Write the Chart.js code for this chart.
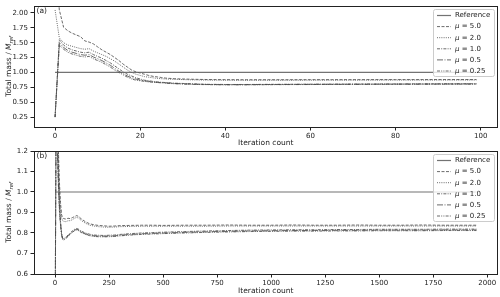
<!DOCTYPE html>
<html>
<head>
<meta charset="utf-8">
<script src="https://cdn.jsdelivr.net/npm/chart.js@4/dist/chart.umd.min.js"></script>
<style>
    html, body { margin: 0; padding: 0; background: #fff; }
    #wrap { position: relative; width: 500px; height: 297px; overflow: hidden; }
    canvas { position: absolute; left: 0; }
    #topChart { top: 0; }
    #bottomChart { top: 145px; }
</style>
</head>
<body>
<div id="wrap">
    <canvas id="topChart" width="500" height="150"></canvas>
    <canvas id="bottomChart" width="500" height="152"></canvas>
</div>
<script>
// --- Data: panel (a), first 100 iterations ---
const topIter = [0, 1, 2, 3, 4, 5, 6, 7, 8, 9, 10, 11, 12, 13, 14, 15, 16, 17, 18, 19, 20, 21, 22, 23, 24, 25, 26,
    28, 30, 32, 34, 36, 38, 40, 45, 50, 55, 60, 65, 70, 75, 80, 85, 90, 95, 99];
const topMu5 = [3.00, 2.05, 1.76, 1.70, 1.66, 1.63, 1.60, 1.53, 1.51, 1.48,
    1.43, 1.38, 1.34, 1.30, 1.25, 1.20, 1.14, 1.09, 1.04, 1.01,
    0.99, 0.97, 0.95, 0.935, 0.925, 0.915, 0.905,
    0.895, 0.89, 0.886, 0.883, 0.881, 0.88, 0.879,
    0.878, 0.878, 0.878, 0.879, 0.879, 0.879, 0.88, 0.88, 0.88, 0.881, 0.881, 0.881];
const topMu2 = [2.05, 1.58, 1.50, 1.46, 1.44, 1.42, 1.40, 1.39, 1.40, 1.36,
    1.33, 1.30, 1.27, 1.23, 1.19, 1.14, 1.09, 1.04, 1.00, 0.97,
    0.95, 0.93, 0.92, 0.91, 0.90, 0.895, 0.89,
    0.885, 0.88, 0.876, 0.873, 0.871, 0.87, 0.869,
    0.868, 0.869, 0.869, 0.87, 0.87, 0.871, 0.871, 0.872, 0.872, 0.872, 0.873, 0.873];
const topMu1 = [0.25, 1.55, 1.46, 1.41, 1.38, 1.36, 1.34, 1.33, 1.34, 1.30,
    1.27, 1.24, 1.20, 1.16, 1.11, 1.06, 1.01, 0.97, 0.94, 0.91,
    0.89, 0.87, 0.86, 0.85, 0.84, 0.835, 0.83,
    0.82, 0.815, 0.81, 0.805, 0.80, 0.80, 0.798,
    0.798, 0.80, 0.801, 0.803, 0.804, 0.805, 0.806, 0.807, 0.808, 0.809, 0.81, 0.81];
const topMu05 = [0.25, 1.50, 1.42, 1.37, 1.34, 1.32, 1.30, 1.29, 1.30, 1.26,
    1.23, 1.20, 1.16, 1.12, 1.07, 1.02, 0.98, 0.94, 0.91, 0.89,
    0.87, 0.86, 0.85, 0.84, 0.835, 0.83, 0.825,
    0.815, 0.81, 0.805, 0.80, 0.798, 0.796, 0.795,
    0.795, 0.797, 0.799, 0.80, 0.801, 0.802, 0.803, 0.804, 0.805, 0.806, 0.807, 0.807];
const topMu025 = [0.25, 1.46, 1.39, 1.34, 1.31, 1.29, 1.27, 1.26, 1.27, 1.23,
    1.20, 1.17, 1.13, 1.09, 1.04, 1.00, 0.96, 0.92, 0.89, 0.87,
    0.86, 0.85, 0.84, 0.835, 0.83, 0.825, 0.82,
    0.81, 0.805, 0.80, 0.797, 0.795, 0.793, 0.792,
    0.792, 0.794, 0.796, 0.797, 0.798, 0.799, 0.80, 0.801, 0.802, 0.803, 0.803, 0.804];

// --- Data: panel (b), long run ---
const bottomIter = [0, 5, 10, 15, 20, 25, 30, 35, 40, 50,
    60, 70, 80, 90, 100, 110, 120, 140, 160, 180,
    200, 225, 250, 275, 300, 350, 400, 450, 500, 600,
    700, 800, 900, 1000, 1100, 1200, 1300, 1400, 1500, 1600,
    1700, 1800, 1900, 1950];
const bottomMu5 = [3.00, 1.90, 1.45, 1.22, 1.05, 0.95, 0.89, 0.875, 0.87, 0.868,
    0.872, 0.87, 0.875, 0.88, 0.885, 0.88, 0.87, 0.855, 0.845, 0.84,
    0.837, 0.835, 0.833, 0.834, 0.836, 0.837, 0.838, 0.838, 0.837, 0.838,
    0.838, 0.839, 0.838, 0.838, 0.839, 0.838, 0.838, 0.839, 0.838, 0.838,
    0.839, 0.838, 0.838, 0.838];
const bottomMu2 = [2.05, 1.60, 1.35, 1.15, 1.00, 0.92, 0.875, 0.86, 0.857, 0.855,
    0.86, 0.86, 0.865, 0.872, 0.876, 0.872, 0.862, 0.848, 0.838, 0.834,
    0.831, 0.829, 0.828, 0.829, 0.831, 0.832, 0.833, 0.833, 0.833, 0.833,
    0.833, 0.834, 0.834, 0.834, 0.834, 0.834, 0.834, 0.834, 0.834, 0.834,
    0.834, 0.834, 0.834, 0.834];
const bottomMu1 = [0.25, 1.50, 1.30, 1.10, 0.95, 0.86, 0.80, 0.776, 0.772, 0.78,
    0.79, 0.80, 0.81, 0.818, 0.822, 0.818, 0.81, 0.80, 0.794, 0.79,
    0.789, 0.788, 0.789, 0.79, 0.793, 0.797, 0.80, 0.802, 0.804, 0.807,
    0.81, 0.812, 0.814, 0.815, 0.816, 0.816, 0.817, 0.817, 0.818, 0.818,
    0.818, 0.819, 0.819, 0.819];
const bottomMu05 = [0.25, 1.45, 1.26, 1.07, 0.93, 0.85, 0.795, 0.772, 0.768, 0.776,
    0.786, 0.796, 0.806, 0.814, 0.818, 0.814, 0.806, 0.796, 0.79, 0.786,
    0.785, 0.784, 0.785, 0.786, 0.789, 0.793, 0.796, 0.798, 0.80, 0.803,
    0.806, 0.808, 0.81, 0.811, 0.812, 0.812, 0.813, 0.813, 0.814, 0.814,
    0.814, 0.815, 0.815, 0.815];
const bottomMu025 = [0.25, 1.40, 1.22, 1.04, 0.91, 0.84, 0.79, 0.768, 0.765, 0.773,
    0.783, 0.793, 0.803, 0.811, 0.815, 0.811, 0.803, 0.793, 0.787, 0.783,
    0.782, 0.781, 0.782, 0.783, 0.786, 0.79, 0.793, 0.795, 0.797, 0.80,
    0.803, 0.805, 0.807, 0.808, 0.809, 0.809, 0.81, 0.81, 0.811, 0.811,
    0.811, 0.812, 0.812, 0.812];

const referenceValue = 1.0;
const muLabels = ['5.0', '2.0', '1.0', '0.5', '0.25'];

// --- Tick labels ---
const topXTicks = [0, 20, 40, 60, 80, 100];
const topYTicks = [0.25, 0.50, 0.75, 1.00, 1.25, 1.50, 1.75, 2.00];
const bottomXTicks = [0, 250, 500, 750, 1000, 1250, 1500, 1750, 2000];
const bottomYTicks = [0.6, 0.7, 0.8, 0.9, 1.0, 1.1, 1.2];

// --- Styles ---
const FONT = 'DejaVu Sans';
const INK = '#222';
const LINE = 'rgba(70, 70, 70, 0.8)';
const REF_LINE = 'rgba(90, 90, 90, 0.85)';
const muDashes = [[3, 1.5], [1, 1.2], [3, 1.2, 1, 1.2], [6, 1.5, 1, 1.5], [3, 1.2, 1, 1.2, 1, 1.2]];

Chart.defaults.font.family = FONT;
Chart.defaults.color = INK;

function makeDatasets(iter, seriesList) {
    const sets = [{
        label: 'Reference',
        data: [iter[0], iter[iter.length - 1]].map(x => ({ x, y: referenceValue })),
        borderColor: REF_LINE,
        borderWidth: 1.2
    }];
    seriesList.forEach((vals, k) => {
        sets.push({
            label: 'μ = ' + muLabels[k],
            data: iter.map((x, i) => ({ x, y: vals[i] })),
            borderColor: LINE,
            borderWidth: 1,
            borderDash: muDashes[k]
        });
    });
    sets.forEach(s => { s.pointRadius = 0; s.fill = false; s.tension = 0; });
    return sets;
}

// frame, axis titles, panel label and legend
const panelDecor = {
    id: 'panelDecor',
    afterDraw(chart, args, opts) {
        const ctx = chart.ctx;
        const a = chart.chartArea;
        ctx.save();

        // frame round the plot
        ctx.strokeStyle = INK;
        ctx.lineWidth = 1;
        ctx.setLineDash([]);
        ctx.strokeRect(Math.round(a.left) + 0.5, Math.round(a.top) + 0.5,
            Math.round(a.right - a.left) - 1, Math.round(a.bottom - a.top));

        ctx.fillStyle = INK;

        // x title
        ctx.font = '7.5px "' + FONT + '"';
        ctx.textAlign = 'center';
        ctx.textBaseline = 'middle';
        ctx.fillText('Iteration count', (a.left + a.right) / 2, opts.xTitleY);

        // y title with italic M and subscript ref
        ctx.save();
        ctx.translate(8.5, (a.top + a.bottom) / 2);
        ctx.rotate(-Math.PI / 2);
        ctx.textAlign = 'left';
        ctx.textBaseline = 'alphabetic';
        const partA = 'Total mass / ';
        const fMain = '7.5px "' + FONT + '"';
        const fItal = 'italic 7.5px "' + FONT + '"';
        const fSub = 'italic 5.3px "' + FONT + '"';
        ctx.font = fMain; const wA = ctx.measureText(partA).width;
        ctx.font = fItal; const wM = ctx.measureText('M').width;
        ctx.font = fSub; const wS = ctx.measureText('ref').width;
        let x0 = -(wA + wM + wS) / 2;
        const base = 2.7;
        ctx.font = fMain; ctx.fillText(partA, x0, base); x0 += wA;
        ctx.font = fItal; ctx.fillText('M', x0, base); x0 += wM;
        ctx.font = fSub; ctx.fillText('ref', x0, base + 1.6);
        ctx.restore();

        // panel label
        ctx.font = '7.5px "' + FONT + '"';
        ctx.textAlign = 'left';
        ctx.textBaseline = 'middle';
        ctx.fillText(opts.label, a.left + 2.5, a.top + 5.5);

        // legend box
        const bx = a.right - 64.5, by = a.top + 3, bw = 61, bh = 67;
        ctx.beginPath();
        ctx.roundRect(bx + 0.5, by + 0.5, bw, bh, 2);
        ctx.fillStyle = 'rgba(255, 255, 255, 0.8)';
        ctx.fill();
        ctx.strokeStyle = '#cccccc';
        ctx.lineWidth = 1;
        ctx.stroke();

        chart.data.datasets.forEach((ds, k) => {
            const ry = by + 6.5 + k * 11.1;
            ctx.strokeStyle = ds.borderColor;
            ctx.lineWidth = ds.borderWidth;
            ctx.setLineDash(ds.borderDash || []);
            ctx.beginPath();
            ctx.moveTo(bx + 4, ry);
            ctx.lineTo(bx + 18, ry);
            ctx.stroke();
            ctx.setLineDash([]);
            ctx.fillStyle = INK;
            ctx.textBaseline = 'middle';
            const tx = bx + 22;
            if (k === 0) {
                ctx.font = '7px "' + FONT + '"';
                ctx.fillText(ds.label, tx, ry);
            } else {
                ctx.font = 'italic 7px "' + FONT + '"';
                ctx.fillText('μ', tx, ry);
                const wm = ctx.measureText('μ').width;
                ctx.font = '7px "' + FONT + '"';
                ctx.fillText(' = ' + muLabels[k - 1], tx + wm, ry);
            }
        });
        ctx.restore();
    }
};

function buildChart(canvasId, cfg) {
    const tickFont = { family: FONT, size: 7, lineHeight: 1 };
    const gridOpts = { display: true, drawOnChartArea: false, drawTicks: true, tickLength: 3.5, tickColor: INK, color: INK, tickWidth: 1 };
    return new Chart(document.getElementById(canvasId), {
        type: 'line',
        data: { datasets: makeDatasets(cfg.iter, cfg.series) },
        options: {
            responsive: false,
            animation: false,
            events: [],
            layout: { padding: { top: cfg.padTop, right: 2.5, left: 0, bottom: 0 } },
            plugins: {
                legend: { display: false },
                tooltip: { enabled: false },
                panelDecor: { label: cfg.label, xTitleY: cfg.xTitleY }
            },
            scales: {
                x: {
                    type: 'linear',
                    min: cfg.xMin, max: cfg.xMax,
                    afterBuildTicks: s => { s.ticks = cfg.xTicks.map(v => ({ value: v })); },
                    afterFit: s => { s.height = cfg.xHeight; },
                    grid: gridOpts,
                    border: { display: false },
                    ticks: { font: tickFont, color: INK, padding: 2.5, maxRotation: 0, autoSkip: false, callback: v => String(v) }
                },
                y: {
                    type: 'linear',
                    min: cfg.yMin, max: cfg.yMax,
                    afterBuildTicks: s => { s.ticks = cfg.yTicks.map(v => ({ value: v })); },
                    afterFit: s => { s.width = 34; },
                    grid: gridOpts,
                    border: { display: false },
                    ticks: { font: tickFont, color: INK, padding: 2.5, autoSkip: false, callback: v => v.toFixed(cfg.yDigits) }
                }
            }
        },
        plugins: [panelDecor]
    });
}

buildChart('topChart', {
    iter: topIter,
    series: [topMu5, topMu2, topMu1, topMu05, topMu025],
    label: '(a)',
    xMin: -4.95, xMax: 103.95, xTicks: topXTicks,
    yMin: 0.0833, yMax: 2.1167, yTicks: topYTicks, yDigits: 2,
    padTop: 5, xHeight: 23, xTitleY: 143.5
});

buildChart('bottomChart', {
    iter: bottomIter,
    series: [bottomMu5, bottomMu2, bottomMu1, bottomMu05, bottomMu025],
    label: '(b)',
    xMin: -97.5, xMax: 2047.5, xTicks: bottomXTicks,
    yMin: 0.6, yMax: 1.2, yTicks: bottomYTicks, yDigits: 1,
    padTop: 6, xHeight: 23, xTitleY: 146
});
</script>
</body>
</html>
